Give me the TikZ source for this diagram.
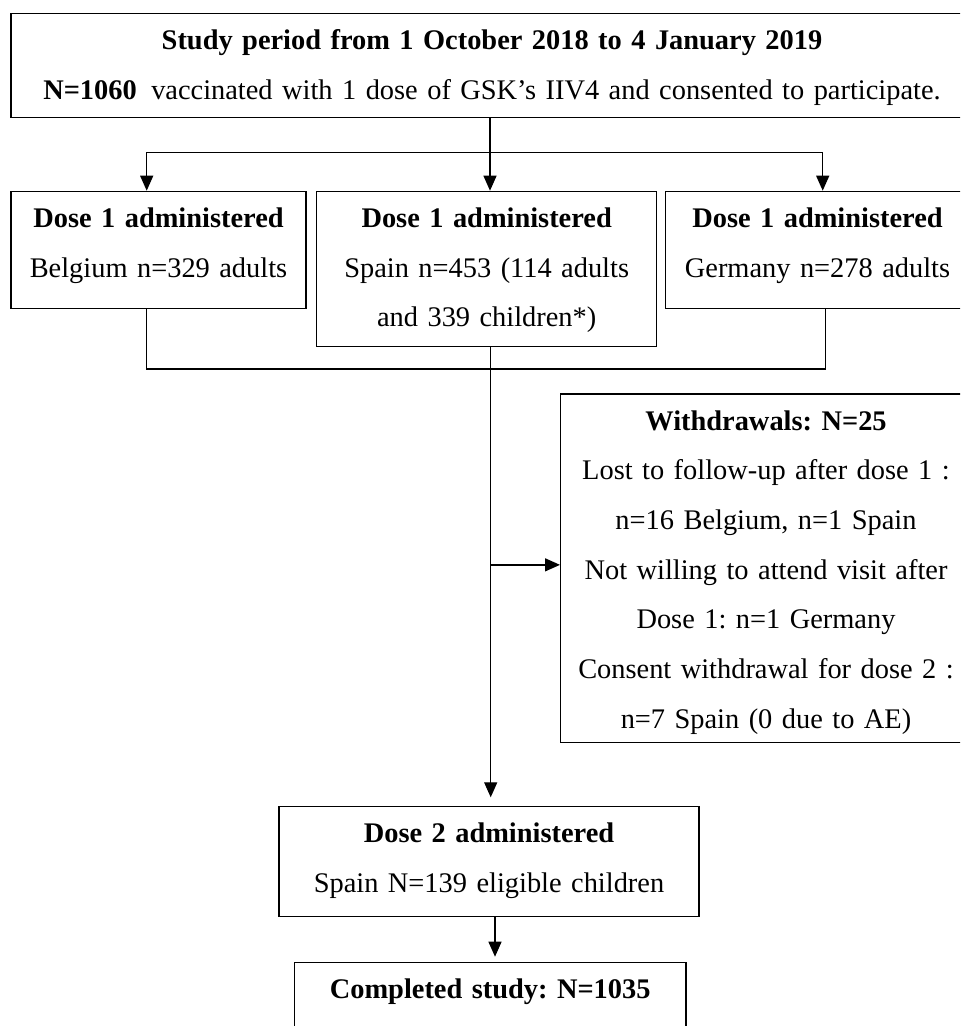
\documentclass[tikz,border=0pt]{standalone}
\usepackage{fontspec}
\setmainfont{Liberation Serif}
\usetikzlibrary{arrows.meta}
\frenchspacing

\begin{document}
\begin{tikzpicture}[x=0.5pt, y=-0.5pt, >={Triangle[length=7.5pt,width=6.5pt]},
        line width=0.65pt, font=\fontsize{14.2pt}{24.85pt}\selectfont,
        box/.style={draw, line width=0.7pt, align=center, inner sep=0pt,
            anchor=north, text height=18pt}]
        
        \useasboundingbox (0,0) rectangle (960,1026);
        \clip (0,0) rectangle (960,1026);
        
        \node[box, text width=481pt, text depth=34.2pt] (study) at (492,12.7) {
            \textbf{Study period from 1 October 2018 to 4 January 2019}\\
            \textbf{N=1060}\hspace{2.5pt} vaccinated with 1 dose of GSK’s IIV4 and consented to participate.};
        
        \node[box, text width=147.5pt, text depth=40.6pt] (belgium) at (158.5,190.7) {
            \textbf{Dose 1 administered}\\ Belgium n=329 adults};
        \node[box, text width=170pt, text depth=59.6pt] (spain) at (486.7,190.7) {
            \textbf{Dose 1 administered}\\ Spain n=453 (114 adults\\ and 339 children*)};
        \node[box, text width=151.8pt, text depth=40.6pt] (germany) at (817.5,190.7) {
            \textbf{Dose 1 administered}\\ Germany n=278 adults};
        
        \node[box, text width=205.3pt, text depth=156.35pt] (withdrawals) at (766,393.3) {
            \textbf{Withdrawals: N=25}\\
            Lost to follow-up after dose 1 :\\
            n=16 Belgium, n=1 Spain\\
            Not willing to attend visit after\\
            Dose 1: n=1 Germany\\
            Consent withdrawal for dose 2 :\\
            n=7 Spain (0 due to AE)};
        
        \node[box, text width=210pt, text depth=37pt] (dosetwo) at (489,805.7) {
            \textbf{Dose 2 administered}\\ Spain N=139 eligible children};
        \node[box, text width=195.85pt, text depth=40pt] (completed) at (490.2,961.7) {
            \textbf{Completed study: N=1035}};
        
        \coordinate (fork) at (490,152.7);
        \coordinate (merge) at (490.7,369);
        
        \draw (study.south -| fork) -- (fork);
        \draw[->] (fork) -| ([xshift=-5.9pt]belgium.north);
        \draw[->] (fork) -- (fork |- spain.north);
        \draw[->] (fork) -| ([xshift=2.6pt]germany.north);
        
        \draw ([xshift=-5.9pt]belgium.south) |- (merge);
        \draw ([xshift=4.1pt]germany.south) |- (merge);
        \draw (merge |- spain.south) -- (merge);
        
        \draw[->] (merge |- withdrawals.west) ++(0,-3.5) -- ([yshift=1.75pt]withdrawals.west);
        \draw[->, shorten >=4.2pt] (merge) -- (merge |- dosetwo.north);
        \draw[->, shorten >=2.5pt] ([xshift=3pt]dosetwo.south) -- ([xshift=3pt]dosetwo.south |- completed.north);
        
        \end{tikzpicture}
\end{document}
